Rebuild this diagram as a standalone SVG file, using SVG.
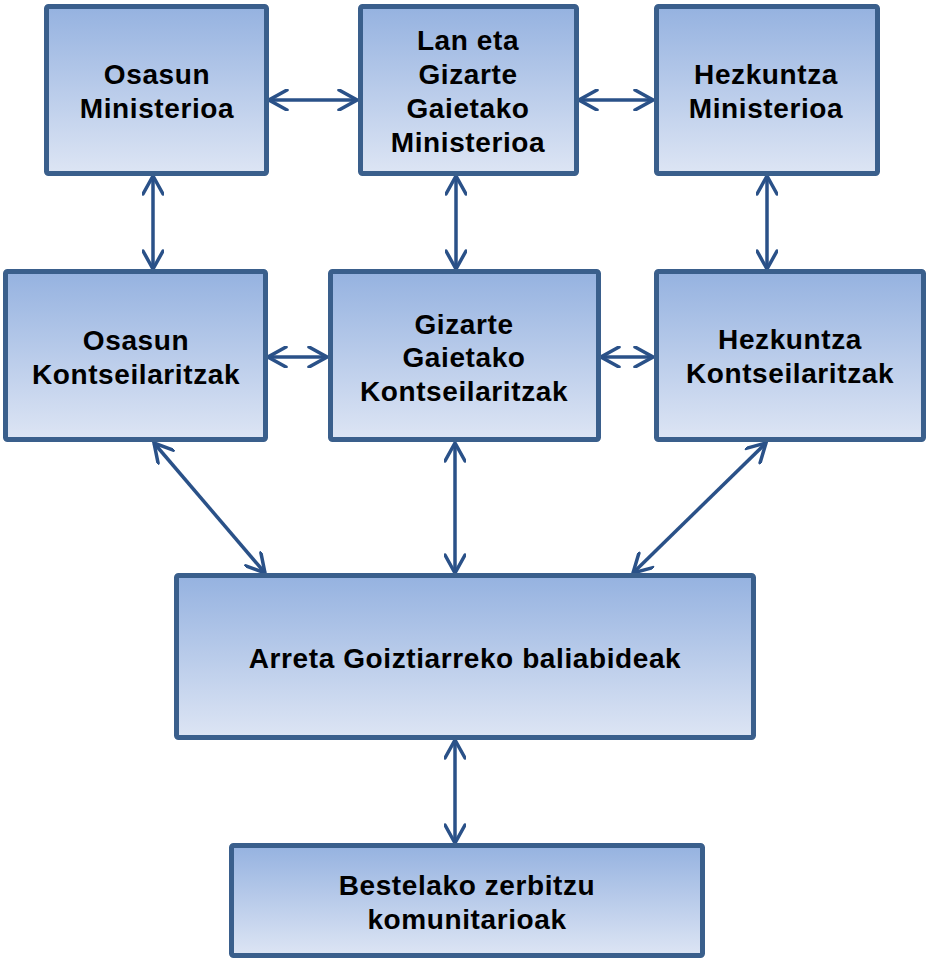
<svg xmlns="http://www.w3.org/2000/svg" width="927" height="961" viewBox="0 0 927 961">
<defs>
<linearGradient id="g" x1="0" y1="0" x2="0" y2="1">
<stop offset="0" stop-color="#95B2E0"/>
<stop offset="1" stop-color="#DDE5F4"/>
</linearGradient>
<marker id="ah" viewBox="0 0 22 22" refX="20" refY="11" markerWidth="22" markerHeight="22" markerUnits="userSpaceOnUse" orient="auto-start-reverse">
<path d="M2,1 L20,11 L2,21" fill="none" stroke="#2A5188" stroke-width="3.5" stroke-linecap="round" stroke-linejoin="miter"/>
</marker>
<style>
.box{fill:url(#g);stroke:#3A5F8C;stroke-width:5;}
.t{font-family:"Liberation Sans",Arial,sans-serif;font-weight:bold;font-size:28px;letter-spacing:0.6px;fill:#000;text-anchor:middle;}
.c line{stroke:#2A5188;stroke-width:3.5;marker-start:url(#ah);marker-end:url(#ah);}
</style>
</defs>
<g id="connectors" class="c">
<line x1="269" y1="100" x2="357" y2="100"/>
<line x1="579" y1="100" x2="653" y2="100"/>
<line x1="153" y1="176" x2="153" y2="269"/>
<line x1="456" y1="176" x2="456" y2="269"/>
<line x1="767" y1="176" x2="767" y2="269"/>
<line x1="268" y1="357" x2="327" y2="357"/>
<line x1="601" y1="357" x2="653" y2="357"/>
<line x1="154" y1="443" x2="265" y2="573"/>
<line x1="455" y1="443" x2="455" y2="573"/>
<line x1="766" y1="443" x2="633" y2="573"/>
<line x1="455" y1="740" x2="455" y2="843"/>
</g>
<g id="osasun-ministerioa">
<rect class="box" x="46.500" y="6.500" width="220" height="167" rx="2"/>
<text class="t" x="157" y="84">Osasun</text>
<text class="t" x="157" y="118">Ministerioa</text>
</g>
<g id="lan-eta-gizarte">
<rect class="box" x="360.500" y="6.500" width="216" height="167" rx="2"/>
<text class="t" x="468" y="50">Lan eta</text>
<text class="t" x="468" y="84">Gizarte</text>
<text class="t" x="468" y="118">Gaietako</text>
<text class="t" x="468" y="152">Ministerioa</text>
</g>
<g id="hezkuntza-ministerioa">
<rect class="box" x="656.500" y="6.500" width="221" height="167" rx="2"/>
<text class="t" x="766" y="84">Hezkuntza</text>
<text class="t" x="766" y="118">Ministerioa</text>
</g>
<g id="osasun-kontseilaritzak">
<rect class="box" x="5.500" y="271.500" width="260" height="168" rx="2"/>
<text class="t" x="136" y="350">Osasun</text>
<text class="t" x="136" y="384">Kontseilaritzak</text>
</g>
<g id="gizarte-gaietako-kontseilaritzak">
<rect class="box" x="330.500" y="271.500" width="268" height="168" rx="2"/>
<text class="t" x="464" y="334">Gizarte</text>
<text class="t" x="464" y="367">Gaietako</text>
<text class="t" x="464" y="401">Kontseilaritzak</text>
</g>
<g id="hezkuntza-kontseilaritzak">
<rect class="box" x="656.500" y="271.500" width="267" height="168" rx="2"/>
<text class="t" x="790" y="349">Hezkuntza</text>
<text class="t" x="790" y="383">Kontseilaritzak</text>
</g>
<g id="arreta-goiztiarreko">
<rect class="box" x="176.500" y="575.500" width="577" height="162" rx="2"/>
<text class="t" x="465" y="668">Arreta Goiztiarreko baliabideak</text>
</g>
<g id="bestelako-zerbitzu">
<rect class="box" x="231.500" y="845.500" width="471" height="110" rx="2"/>
<text class="t" x="467" y="895">Bestelako zerbitzu</text>
<text class="t" x="467" y="929">komunitarioak</text>
</g>
</svg>
